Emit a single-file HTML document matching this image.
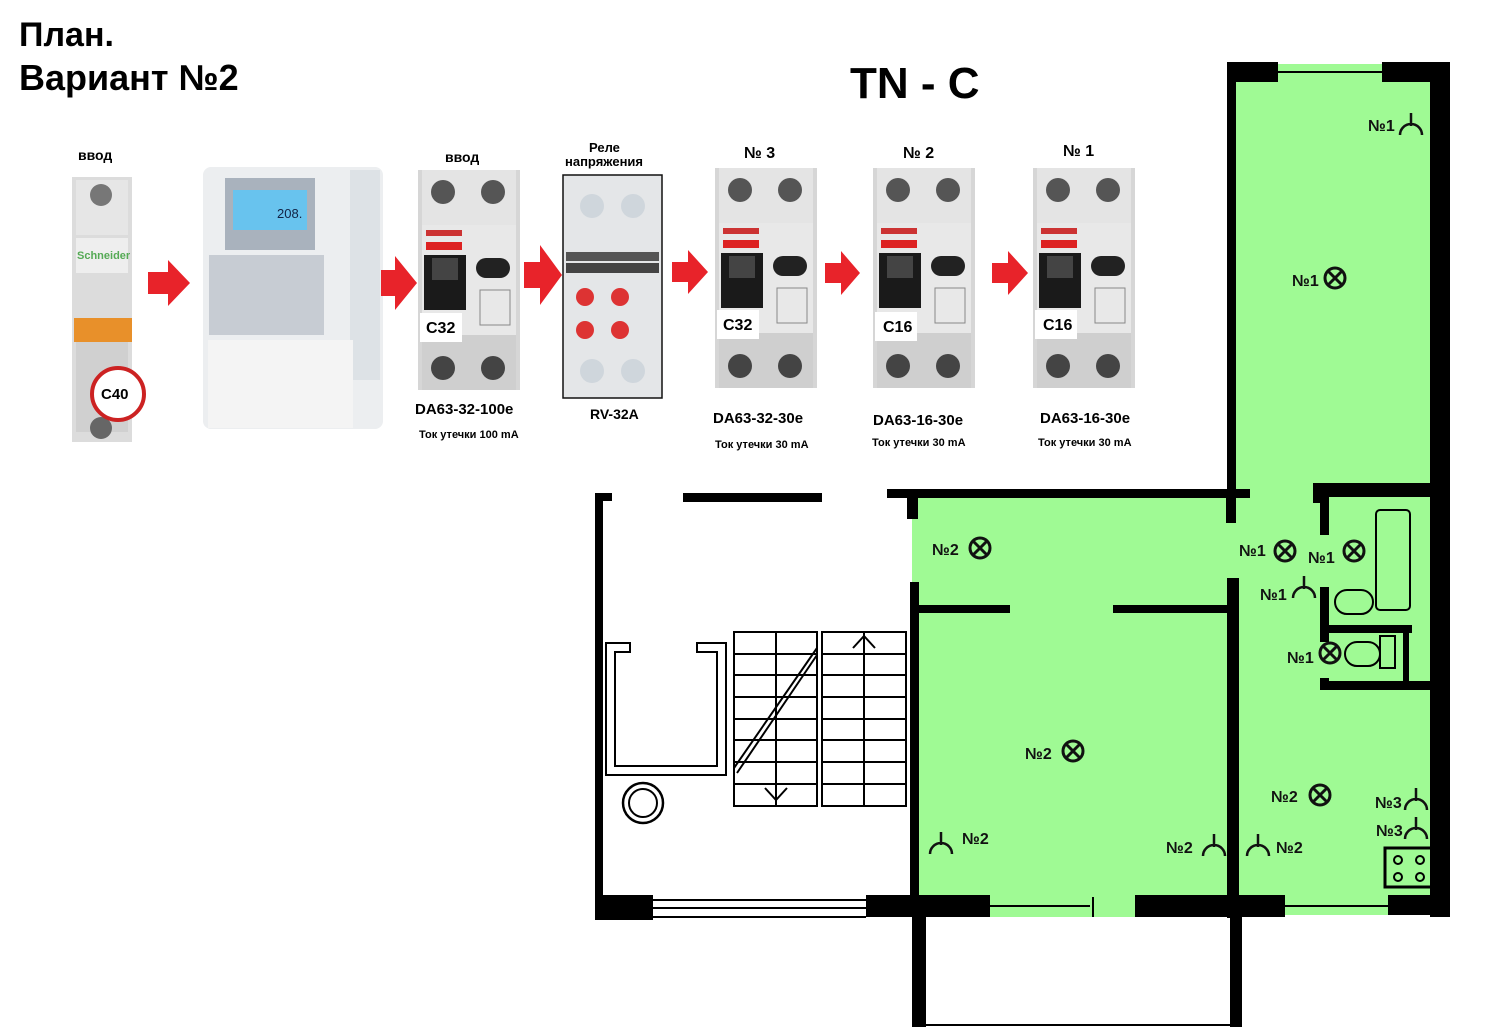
<!DOCTYPE html>
<html><head><meta charset="utf-8"><style>
html,body{margin:0;padding:0;background:#fff;}
svg{display:block;font-family:"Liberation Sans","DejaVu Sans",sans-serif;}
</style></head><body>
<svg width="1494" height="1034" viewBox="0 0 1494 1034" xmlns="http://www.w3.org/2000/svg">
<defs>
<g id="lamp"><circle r="10" fill="none" stroke="#111" stroke-width="3"/><path d="M-7,-7 L7,7 M7,-7 L-7,7" stroke="#111" stroke-width="3"/></g>
<g id="sock" fill="none" stroke="#111" stroke-width="2.5"><path d="M0,-13 L0,0 M-11,9 A11,11 0 0 1 11,9"/></g>
<g id="rcd">
<rect x="0" y="0" width="102" height="220" fill="#d6d6d6"/>
<rect x="4" y="0" width="94" height="55" fill="#e4e4e4"/>
<circle cx="25" cy="22" r="12" fill="#555"/><circle cx="75" cy="22" r="12" fill="#555"/>
<rect x="4" y="55" width="94" height="110" fill="#e8e8e8"/>
<rect x="8" y="60" width="36" height="6" fill="#c33"/>
<rect x="8" y="72" width="36" height="8" fill="#d22"/>
<rect x="6" y="85" width="42" height="55" fill="#1a1a1a"/>
<rect x="14" y="88" width="26" height="22" fill="#444"/>
<rect x="58" y="88" width="34" height="20" rx="10" fill="#222"/>
<rect x="62" y="120" width="30" height="35" fill="none" stroke="#888"/>
<rect x="4" y="165" width="94" height="55" fill="#cfcfcf"/>
<circle cx="25" cy="198" r="12" fill="#444"/><circle cx="75" cy="198" r="12" fill="#444"/>
</g>
</defs>

<text x="19" y="46" font-size="34" font-weight="bold">План.</text>
<text x="19" y="90" font-size="36" font-weight="bold">Вариант №2</text>
<text x="850" y="98" font-size="44" font-weight="bold">TN - C</text>

<text x="78" y="160" font-size="14" font-weight="bold">ввод</text>
<rect x="72" y="177" width="60" height="265" fill="#dcdcdc"/>
<rect x="76" y="180" width="52" height="55" fill="#e6e6e6"/>
<circle cx="101" cy="195" r="11" fill="#777"/>
<rect x="76" y="238" width="52" height="35" fill="#eee"/>
<text x="77" y="259" font-size="11" font-weight="bold" fill="#5a5">Schneider</text>
<rect x="74" y="318" width="58" height="24" fill="#e8902a"/>
<rect x="76" y="342" width="52" height="90" fill="#d0d0d0"/>
<circle cx="101" cy="428" r="11" fill="#666"/>
<circle cx="118" cy="394" r="26" fill="#fff" stroke="#c22" stroke-width="4"/>
<text x="101" y="399" font-size="15" font-weight="bold">C40</text>

<rect x="203" y="167" width="180" height="262" rx="8" fill="#eceef0"/>
<rect x="350" y="170" width="30" height="210" fill="#dde2e6"/>
<rect x="225" y="178" width="90" height="72" fill="#a9b2bd"/>
<rect x="233" y="190" width="74" height="40" fill="#68c3ee"/>
<text x="277" y="218" font-size="13" fill="#124">208.</text>
<rect x="209" y="255" width="115" height="80" fill="#c7ccd3"/>
<rect x="208" y="340" width="145" height="88" fill="#f4f4f4"/>

<g fill="#e8232a">
<path d="M148,272 h20 v-12 l22,23 l-22,23 v-12 h-20z"/>
<path d="M381,270 h14 v-14 l22,27 l-22,27 v-14 h-14z"/>
<path d="M524,262 h16 v-17 l22,30 l-22,30 v-17 h-16z"/>
<path d="M672,262 h16 v-12 l20,22 l-20,22 v-12 h-16z"/>
<path d="M825,263 h16 v-12 l19,22 l-19,22 v-12 h-16z"/>
<path d="M992,263 h16 v-12 l20,22 l-20,22 v-12 h-16z"/>
</g>

<text x="445" y="162" font-size="14" font-weight="bold">ввод</text>
<use href="#rcd" x="418" y="170"/>
<rect x="420" y="313" width="42" height="29" fill="#fff"/>
<text x="426" y="333" font-size="16" font-weight="bold">C32</text>
<text x="415" y="414" font-size="15" font-weight="bold">DA63-32-100e</text>
<text x="419" y="438" font-size="11" font-weight="bold">Ток утечки 100 mA</text>

<text x="589" y="152" font-size="13" font-weight="bold">Реле</text>
<text x="565" y="166" font-size="13" font-weight="bold">напряжения</text>
<rect x="563" y="175" width="99" height="223" fill="#e4e6e8" stroke="#111" stroke-width="1.5"/>
<circle cx="592" cy="206" r="12" fill="#cfd6dc"/><circle cx="633" cy="206" r="12" fill="#cfd6dc"/>
<rect x="566" y="252" width="93" height="9" fill="#555"/>
<rect x="566" y="263" width="93" height="10" fill="#444"/>
<circle cx="585" cy="297" r="9" fill="#d33"/><circle cx="620" cy="297" r="9" fill="#d33"/>
<circle cx="585" cy="330" r="9" fill="#d33"/><circle cx="620" cy="330" r="9" fill="#d33"/>
<circle cx="592" cy="371" r="12" fill="#cfd6dc"/><circle cx="633" cy="371" r="12" fill="#cfd6dc"/>
<text x="590" y="419" font-size="14" font-weight="bold">RV-32A</text>

<text x="744" y="158" font-size="16" font-weight="bold">№ 3</text>
<use href="#rcd" x="715" y="168"/>
<rect x="717" y="310" width="42" height="29" fill="#fff"/>
<text x="723" y="330" font-size="16" font-weight="bold">C32</text>
<text x="713" y="423" font-size="15" font-weight="bold">DA63-32-30e</text>
<text x="715" y="448" font-size="11" font-weight="bold">Ток утечки 30 mA</text>

<text x="903" y="158" font-size="16" font-weight="bold">№ 2</text>
<use href="#rcd" x="873" y="168"/>
<rect x="875" y="312" width="42" height="29" fill="#fff"/>
<text x="883" y="332" font-size="16" font-weight="bold">C16</text>
<text x="873" y="425" font-size="15" font-weight="bold">DA63-16-30e</text>
<text x="872" y="446" font-size="11" font-weight="bold">Ток утечки 30 mA</text>

<text x="1063" y="156" font-size="16" font-weight="bold">№ 1</text>
<use href="#rcd" x="1033" y="168"/>
<rect x="1035" y="310" width="42" height="29" fill="#fff"/>
<text x="1043" y="330" font-size="16" font-weight="bold">C16</text>
<text x="1040" y="423" font-size="15" font-weight="bold">DA63-16-30e</text>
<text x="1038" y="446" font-size="11" font-weight="bold">Ток утечки 30 mA</text>

<g fill="#9ffa94">
<rect x="1236" y="80" width="196" height="420"/>
<rect x="912" y="497" width="520" height="410"/>
<rect x="1278" y="64" width="104" height="18"/>
<rect x="990" y="897" width="145" height="20"/>
<rect x="1285" y="897" width="103" height="18"/>
</g>
<g fill="#000">
<rect x="1227" y="62" width="51" height="20"/>
<rect x="1382" y="62" width="68" height="20"/>
<rect x="1227" y="62" width="9" height="430"/>
<rect x="1430" y="62" width="20" height="855"/>
<rect x="1313" y="483" width="117" height="14"/>
<rect x="1313" y="483" width="10" height="20"/>
<rect x="887" y="489" width="363" height="9"/>
<rect x="907" y="489" width="11" height="30"/>
<rect x="1226" y="489" width="10" height="34"/>
<rect x="910" y="582" width="9" height="335"/>
<rect x="918" y="605" width="92" height="8"/>
<rect x="1113" y="605" width="120" height="8"/>
<rect x="1227" y="578" width="12" height="340"/>
<rect x="1320" y="497" width="9" height="38"/>
<rect x="1320" y="587" width="9" height="55"/>
<rect x="1320" y="625" width="92" height="8"/>
<rect x="1403" y="625" width="6" height="60"/>
<rect x="1320" y="678" width="9" height="12"/>
<rect x="1320" y="681" width="110" height="9"/>
<rect x="595" y="895" width="58" height="25"/>
<rect x="866" y="895" width="124" height="22"/>
<rect x="1135" y="895" width="150" height="22"/>
<rect x="1388" y="895" width="62" height="20"/>
<rect x="595" y="493" width="8" height="427"/>
<rect x="595" y="493" width="17" height="8"/>
<rect x="683" y="493" width="139" height="9"/>
<rect x="912" y="915" width="14" height="112"/>
<rect x="1230" y="915" width="12" height="112"/>
</g>
<g stroke="#000" stroke-width="2" fill="none">
<line x1="653" y1="900" x2="866" y2="900"/><line x1="653" y1="908" x2="866" y2="908"/><line x1="653" y1="917" x2="866" y2="917"/>
<line x1="990" y1="906" x2="1090" y2="906"/><line x1="1093" y1="897" x2="1093" y2="917"/>
<line x1="1285" y1="906" x2="1388" y2="906"/>
<line x1="1278" y1="72" x2="1382" y2="72"/>
<line x1="926" y1="1025" x2="1230" y2="1025"/>
<rect x="734" y="632" width="83" height="174"/>
<rect x="822" y="632" width="84" height="174"/>
<path d="M776,632 V806 M864,632 V806"/>
<path d="M734,654 h83 M734,675 h83 M734,697 h83 M734,719 h83 M734,740 h83 M734,762 h83 M734,784 h83"/>
<path d="M822,654 h84 M822,675 h84 M822,697 h84 M822,719 h84 M822,740 h84 M822,762 h84 M822,784 h84"/>
<path d="M734,768 L817,648 M737,773 L817,655"/>
<path d="M765,788 L776,800 L787,788 M853,648 L864,636 L875,648"/>
<path d="M606,643 H630 V652 H615 V766 H717 V652 H697 V643 H726 V775 H606 Z"/>
<circle cx="643" cy="803" r="20" stroke-width="2.5"/><circle cx="643" cy="803" r="14"/>
<rect x="1376" y="510" width="34" height="100" rx="4"/>
<rect x="1335" y="590" width="38" height="24" rx="12"/>
<rect x="1345" y="642" width="35" height="24" rx="12"/>
<rect x="1380" y="636" width="15" height="32"/>
<rect x="1385" y="848" width="47" height="39" stroke-width="3"/>
<circle cx="1398" cy="860" r="4"/><circle cx="1420" cy="860" r="4"/><circle cx="1398" cy="877" r="4"/><circle cx="1420" cy="877" r="4"/>
</g>

<g font-size="16" font-weight="bold" fill="#111">
<text x="1368" y="131">№1</text><use href="#sock" x="1411" y="126"/>
<text x="1292" y="286">№1</text><use href="#lamp" x="1335" y="278"/>
<text x="932" y="555">№2</text><use href="#lamp" x="980" y="548"/>
<text x="1239" y="556">№1</text><use href="#lamp" x="1285" y="551"/>
<text x="1308" y="563">№1</text><use href="#lamp" x="1354" y="551"/>
<text x="1260" y="600">№1</text><use href="#sock" x="1304" y="589"/>
<text x="1287" y="663">№1</text><use href="#lamp" x="1330" y="653"/>
<text x="1025" y="759">№2</text><use href="#lamp" x="1073" y="751"/>
<text x="1271" y="802">№2</text><use href="#lamp" x="1320" y="795"/>
<text x="1375" y="808">№3</text><use href="#sock" x="1416" y="801"/>
<text x="1376" y="836">№3</text><use href="#sock" x="1416" y="830"/>
<use href="#sock" x="941" y="845"/><text x="962" y="844">№2</text>
<text x="1166" y="853">№2</text><use href="#sock" x="1214" y="847"/>
<use href="#sock" x="1258" y="847"/><text x="1276" y="853">№2</text>
</g>
</svg>
</body></html>
